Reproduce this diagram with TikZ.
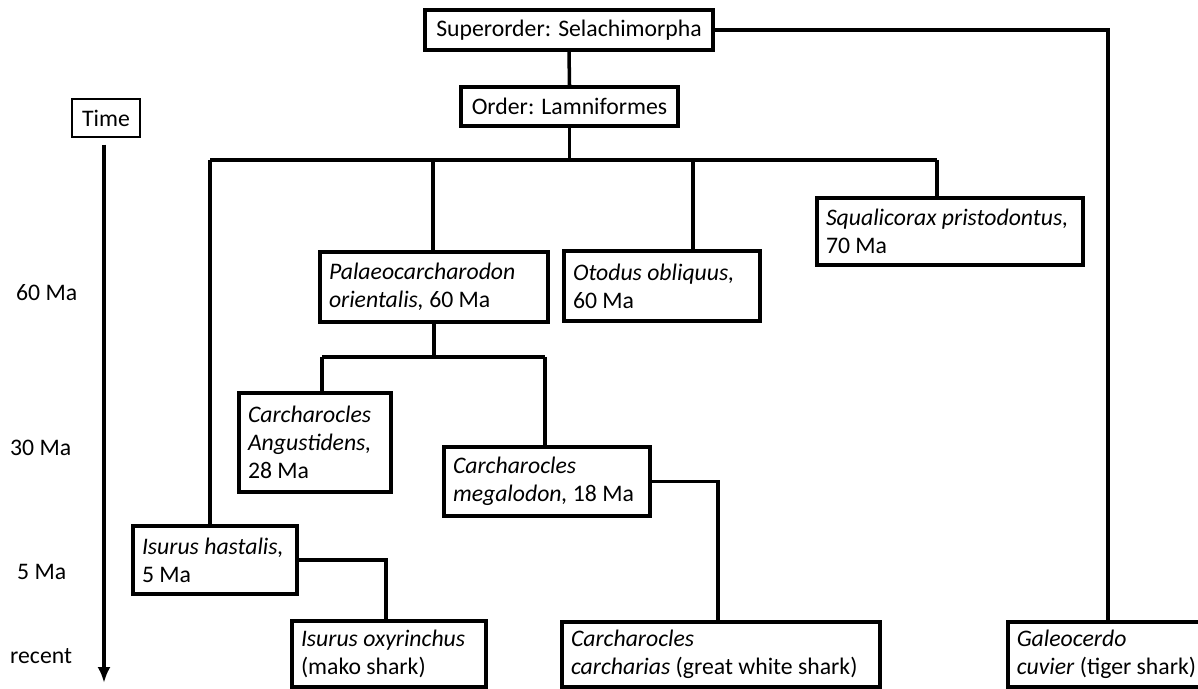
\documentclass[tikz,border=0pt]{standalone}
\usepackage{fontspec}
\setmainfont{Carlito}
\usetikzlibrary{arrows.meta}

\begin{document}
\begin{tikzpicture}[scale=1.0,
    taxon/.style={draw, line width=2pt, inner xsep=0.18cm, align=flush left},
    link/.style={line width=2pt},
    font=\fontsize{13.5}{16}\selectfont]
  \useasboundingbox (0,0) rectangle (23.96,-13.78);

  % Time axis
  \node[draw, line width=0.7pt, minimum width=1.36cm, minimum height=0.76cm] (time) at (2.12,-2.36) {Time};
  \coordinate (tend) at (2.08,-13.66);
  \draw[link, -{Latex[length=0.32cm, width=0.26cm]}] (time.south -| tend) ++(0,-0.14) -- (tend);
  \node[anchor=west] (t60) at (0.20,-5.86) {60 Ma};
  \node[anchor=west] (t30) at (0.08,-8.96) {30 Ma};
  \node[anchor=west] (t5) at (0.22,-11.44) {5 Ma};
  \node[anchor=west] (trec) at (0.08,-13.12) {recent};

  % Top of the tree
  \node[taxon, align=center, minimum width=5.76cm, minimum height=0.80cm] (super) at (11.38,-0.60) {Superorder: Selachimorpha};
  \node[taxon, align=center, minimum width=4.34cm, minimum height=0.78cm] (order) at (11.39,-2.13) {Order: Lamniformes};

  % Taxa
  \node[taxon, text width=4.20cm, minimum height=1.40cm] (palaeo) at (8.68,-5.74)
    {\textit{Palaeocarcharodon}\\\textit{orientalis,} 60 Ma};
  \node[taxon, text width=3.56cm, minimum height=1.40cm] (otodus) at (13.24,-5.72)
    {\textit{Otodus obliquus,}\\60 Ma};
  \node[taxon, text width=4.96cm, minimum height=1.34cm] (squal) at (19.00,-4.63)
    {\textit{Squalicorax pristodontus,}\\70 Ma};
  \node[taxon, text width=2.68cm, minimum height=1.98cm] (angust) at (6.30,-8.85)
    {\textit{Carcharocles}\\\textit{Angustidens,}\\28 Ma};
  \node[taxon, text width=3.76cm, minimum height=1.38cm] (megal) at (10.94,-9.63)
    {\textit{Carcharocles}\\\textit{megalodon,} 18 Ma};
  \node[taxon, text width=2.92cm, minimum height=1.36cm] (hast) at (4.30,-11.20)
    {\textit{Isurus hastalis,}\\5 Ma};
  \node[taxon, text width=3.52cm, minimum height=1.32cm] (mako) at (7.78,-13.08)
    {\textit{Isurus oxyrinchus}\\(mako shark)};
  \node[taxon, text width=6.00cm, minimum height=1.30cm] (gw) at (14.42,-13.09)
    {\textit{Carcharocles}\\\textit{carcharias} (great white shark)};
  \node[taxon, text width=3.72cm, minimum height=1.30cm, anchor=west] (galeo) at (20.12,-13.09)
    {\textit{Galeocerdo}\\\textit{cuvier} (tiger shark)};

  % Joints
  \coordinate (busL) at (4.20,-3.20);
  \coordinate (busP) at (8.66,-3.20);
  \coordinate (busO) at (13.86,-3.20);
  \coordinate (busR) at (18.74,-3.20);
  \coordinate (subL) at (6.44,-7.14);
  \coordinate (subR) at (10.90,-7.14);
  \coordinate (outer) at (22.16,-0.60);
  \coordinate (megk) at (14.36,-9.63);
  \coordinate (hask) at (7.72,-11.20);

  % Connectors
  \draw[link] (super.south) -- (order.north);
  \draw[link] (order.south) -- (order.south |- busL);
  \draw[link] (busL) -- (busR);
  \draw[link] (busL) -- (busL |- hast.north);
  \draw[link] (busP) -- (busP |- palaeo.north);
  \draw[link] (busO) -- (busO |- otodus.north);
  \draw[link] (busR) -- (busR |- squal.north);
  \draw[link] (super.east) -- (outer) -- (outer |- galeo.north);
  \draw[link] (palaeo.south) -- (palaeo.south |- subL);
  \draw[link] (subL) -- (subR);
  \draw[link] (subL) -- (subL |- angust.north);
  \draw[link] (subR) -- (subR |- megal.north);
  \draw[link] (megal.east) -- (megk) -- (megk |- gw.north);
  \draw[link] (hast.east) -- (hask) -- (hask |- mako.north);

\end{tikzpicture}
\end{document}
